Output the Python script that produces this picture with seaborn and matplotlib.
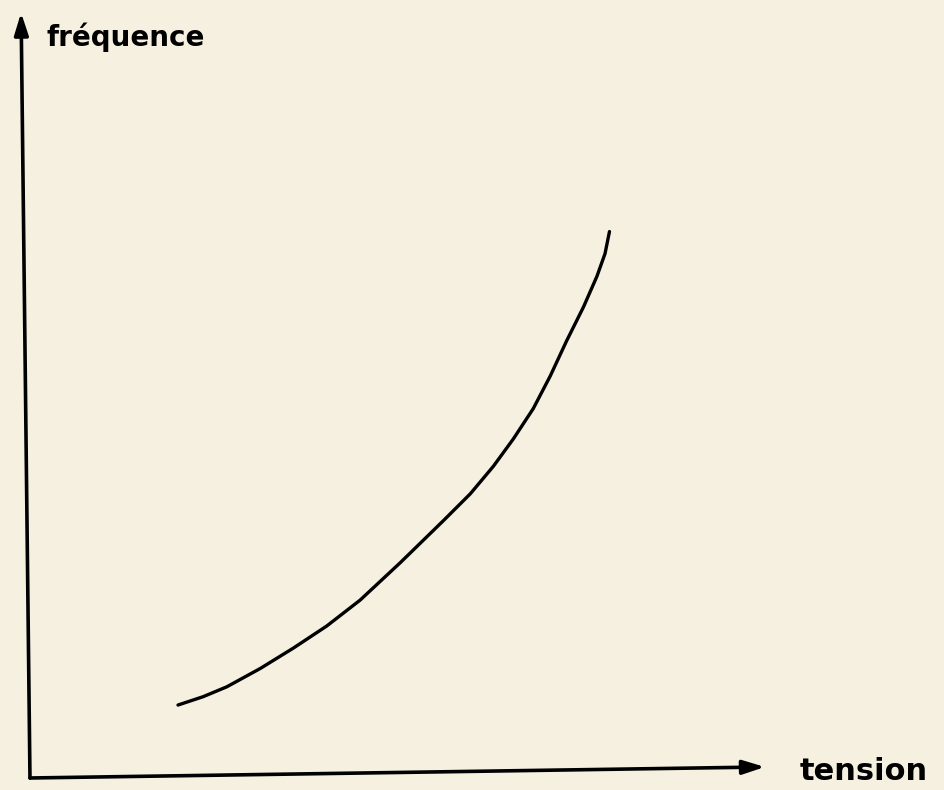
import numpy as np
import pandas as pd
import matplotlib
matplotlib.use("Agg")
import matplotlib.pyplot as plt
import seaborn as sns

# curve (arbitrary units, origin at the axes corner)
tension = [2.00, 2.34, 2.66, 3.11, 3.56, 4.01, 4.46, 5.00, 5.59, 5.95,
           6.26, 6.53, 6.80, 7.03, 7.25, 7.48, 7.66, 7.77, 7.83]
frequence = [0.96, 1.07, 1.20, 1.44, 1.71, 2.00, 2.34, 2.83, 3.39, 3.74,
             4.10, 4.46, 4.86, 5.29, 5.75, 6.20, 6.60, 6.90, 7.19]

x_label = "tension"
y_label = "fréquence"

paper = "#f5f0e0"


def main():
    sns.set_theme(style="white")
    plt.rcParams["font.family"] = ["DejaVu Sans"]

    fig = plt.figure(figsize=(9.44, 7.90), dpi=100, facecolor=paper)
    ax = fig.add_axes([0, 0, 1, 1])
    ax.set_facecolor(paper)

    df = pd.DataFrame({"tension": tension, "frequence": frequence})
    sns.lineplot(data=df, x="tension", y="frequence", sort=False,
                 color="black", linewidth=2.4, ax=ax,
                 solid_capstyle="round", solid_joinstyle="round")

    # hand drawn axes with arrow heads
    arrow = dict(arrowstyle="-|>,head_length=1.1,head_width=0.35",
                 color="black", lw=2.6, shrinkA=0, shrinkB=0)
    ax.annotate("", xy=(9.93, 0.145), xytext=(0, 0), arrowprops=arrow)
    ax.annotate("", xy=(-0.12, 10.07), xytext=(0, 0), arrowprops=arrow)

    ax.text(10.4, 0.08, x_label, fontsize=22, fontweight="bold",
            color="black", ha="left", va="center")
    ax.text(0.22, 9.75, y_label, fontsize=20, fontweight="semibold",
            color="black", ha="left", va="center")

    ax.set_xlim(-0.405, 12.35)
    ax.set_ylim(-0.158, 10.237)
    ax.axis("off")

    fig.savefig("out.png", dpi=100, facecolor=paper)


if __name__ == "__main__":
    main()
